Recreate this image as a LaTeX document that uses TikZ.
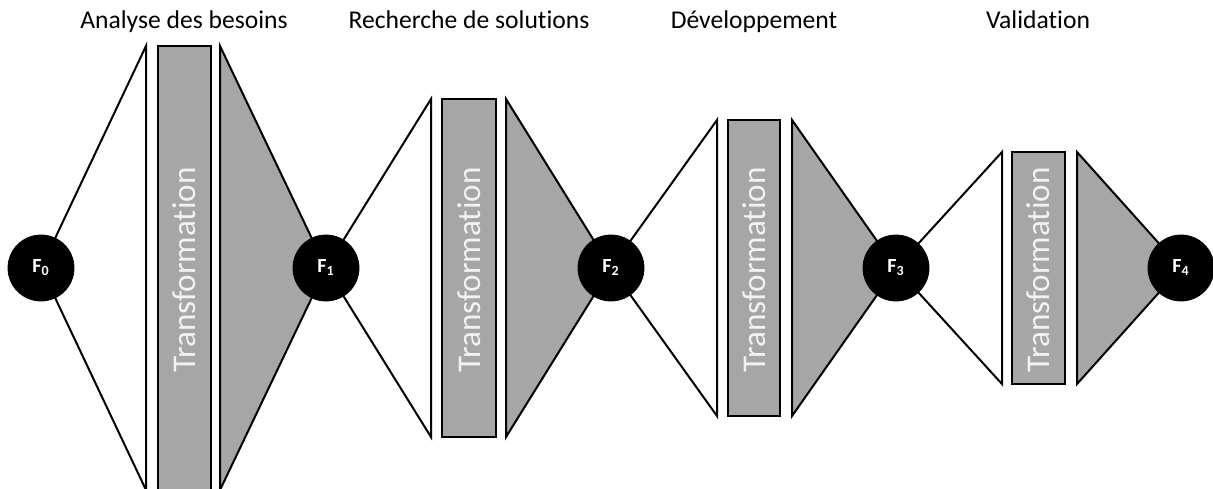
\documentclass[tikz,border=0pt]{standalone}
\usepackage{fontspec}
\setmainfont{Carlito}[Ligatures=NoCommon]
\usepackage{tikz}
\definecolor{StageGray}{HTML}{A6A6A6}
\definecolor{LabelWhite}{HTML}{F2F2F2}
\definecolor{Ink}{HTML}{000000}

\begin{document}
\begin{tikzpicture}[x=0.5pt,y=0.5pt,
    every node/.style={font=\normalsize},
    phase/.style={draw=Ink,line width=1pt,fill=white},
    work/.style={draw=Ink,line width=1.2pt,fill=StageGray},
    state/.style={circle,fill=Ink,draw=Ink,minimum size=33pt,inner sep=0pt,text=white,font=\fontsize{10}{12}\selectfont\bfseries},
    title/.style={anchor=base,font=\fontsize{12.8}{15}\selectfont,text=Ink},
    tlabel/.style={rotate=90,text=LabelWhite,font=\fontsize{16.6}{20}\selectfont}]
    \useasboundingbox (0,0) rectangle (1213,488);

    % states
    \coordinate (s0) at (41,220);
    \coordinate (s1) at (326,220);
    \coordinate (s2) at (611,220);
    \coordinate (s3) at (896,220);
    \coordinate (s4) at (1181,220);

    % Analyse des besoins
    \draw[phase] (s0) -- (146,442) -- (146,-2) -- cycle;
    \draw[work] (158,-2) rectangle (211,442);
    \draw[phase,fill=StageGray] (220,442) -- (s1) -- (220,-2) -- cycle;
    \node[tlabel] (t1) at (184.5,218) {Transformation};
    \node[title] (h1) at (184,459) {Analyse des besoins};

    % Recherche de solutions
    \draw[phase] (s1) -- (431,389) -- (431,51) -- cycle;
    \draw[work] (442,51) rectangle (496,389);
    \draw[phase,fill=StageGray] (506,389) -- (s2) -- (506,51) -- cycle;
    \node[tlabel] (t2) at (469,218) {Transformation};
    \node[title] (h2) at (469,459) {Recherche de solutions};

    % Developpement
    \draw[phase] (s2) -- (717,368) -- (717,72) -- cycle;
    \draw[work] (728,72) rectangle (780,368);
    \draw[phase,fill=StageGray] (792,368) -- (s3) -- (792,72) -- cycle;
    \node[tlabel] (t3) at (754,218) {Transformation};
    \node[title] (h3) at (754,459) {Développement};

    % Validation
    \draw[phase] (s3) -- (1002,336) -- (1002,104) -- cycle;
    \draw[work] (1012,104) rectangle (1065,336);
    \draw[phase,fill=StageGray] (1077,336) -- (s4) -- (1077,104) -- cycle;
    \node[tlabel] (t4) at (1038.5,218) {Transformation};
    \node[title] (h4) at (1038,459) {Validation};

    \node[state] (F0) at (s0) {F\textsubscript{0}};
    \node[state] (F1) at (s1) {F\textsubscript{1}};
    \node[state] (F2) at (s2) {F\textsubscript{2}};
    \node[state] (F3) at (s3) {F\textsubscript{3}};
    \node[state] (F4) at (s4) {F\textsubscript{4}};
  \end{tikzpicture}
\end{document}
